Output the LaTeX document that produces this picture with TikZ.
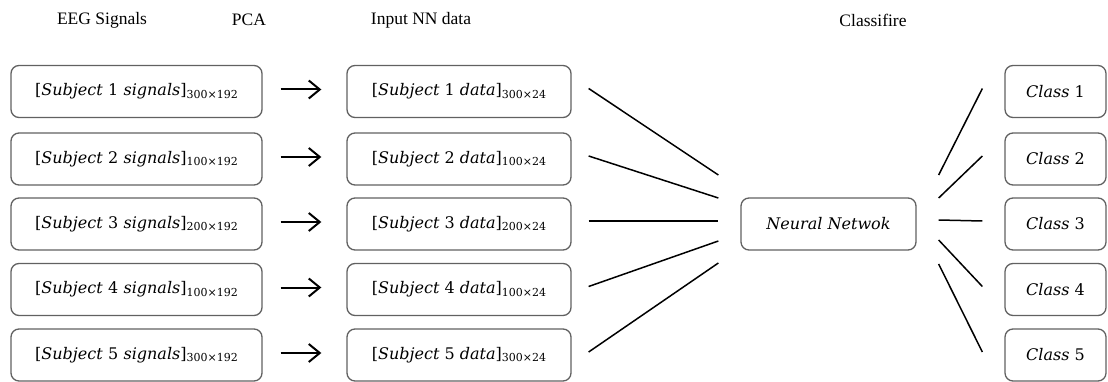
\documentclass[tikz,border=0pt]{standalone}
\usepackage{fontspec}
\setmainfont{Liberation Serif}
\newfontfamily\boxfont{DejaVu Serif}
\usetikzlibrary{arrows.meta,calc}
\newcommand{\sbx}[1]{\raisebox{-0.3ex}{\fontsize{11}{12}\selectfont #1}}
\begin{document}
\begin{tikzpicture}[x=1pt,y=-1pt,
  box/.style={draw=black!62, line width=1.3pt, rounded corners=8pt, minimum height=52pt, inner sep=0pt, font=\boxfont\fontsize{16}{18}\selectfont},
  title/.style={font=\fontsize{17.5}{20}\selectfont, inner sep=0pt},
  conn/.style={line width=1.5pt, black},
  pcaarrow/.style={line width=2pt, -{Straight Barb[length=11pt,width=18pt,line width=2pt]}}]
\useasboundingbox (0,0) rectangle (1108,382);
% titles
\node[title] (t1) at (102,20) {EEG Signals};
\node[title] (t2) at (249,20) {PCA};
\node[title] (t3) at (421,20) {Input NN data};
\node[title] (t4) at (873,20) {Classifire};
% rows
\foreach \i/\y/\a/\b in {1/91.5/300/192, 2/159/100/192, 3/224/200/192, 4/289.5/100/192, 5/355/300/192}{
  \node[box, minimum width=251pt, text width=239pt, align=center] (s\i) at (136.5,\y) {[\textit{Subject} \i{} \textit{signals}]\sbx{\a×\b}};
}
\foreach \i/\y/\a in {1/91.5/300, 2/159/100, 3/224/200, 4/289.5/100, 5/355/300}{
  \node[box, minimum width=224pt] (d\i) at (459,\y) {[\textit{Subject} \i{} \textit{data}]\sbx{\a×24}};
}
\foreach \i/\y in {1/91.5, 2/159, 3/224, 4/289.5, 5/355}{
  \node[box, minimum width=101pt] (c\i) at (1055.5,\y) {\textit{Class} \i};
}
\node[box, minimum width=175pt] (nn) at (828.5,224) {\textit{Neural Netwok}};
% PCA arrows
\foreach \i in {1,...,5}{
  \draw[pcaarrow] ($(s\i.east)+(18,-2)$) -- ($(d\i.west)+(-25,-2)$);
}
% input lines
\foreach \i/\o in {1/-49, 2/-26, 3/-3, 4/17, 5/39}{
  \draw[conn] ($(d\i.east)+(17,-3)$) -- ($(nn.west)+(-22,\o)$);
}
% output lines
\foreach \i/\o in {1/-49, 2/-26, 3/-4, 4/16, 5/40}{
  \draw[conn] ($(nn.east)+(22,\o)$) -- ($(c\i.west)+(-22,-3)$);
}
\end{tikzpicture}
\end{document}
